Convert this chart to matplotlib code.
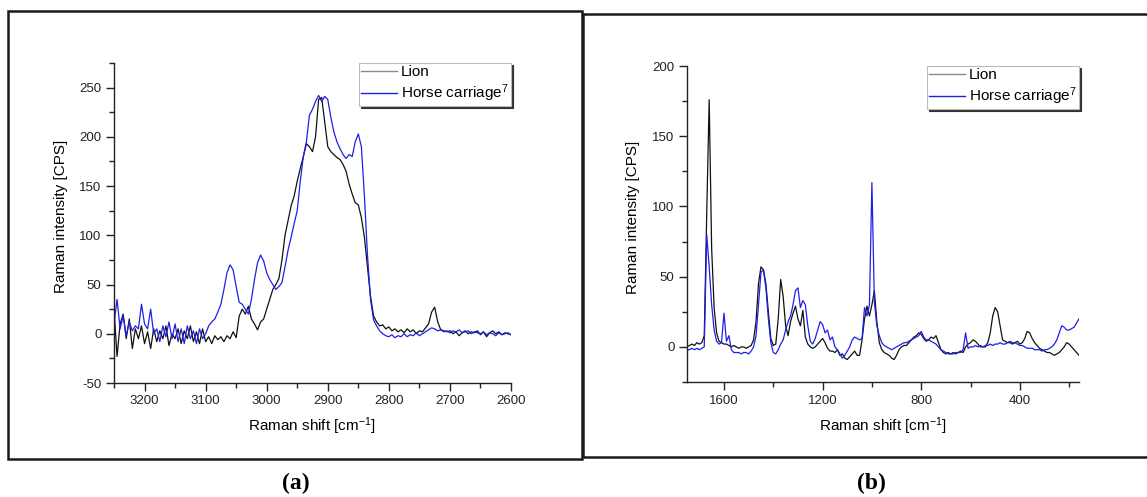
import numpy as np
import matplotlib
matplotlib.use("Agg")
from matplotlib import pyplot as plt
from matplotlib.lines import Line2D
from matplotlib.patches import Rectangle
from matplotlib.ticker import MultipleLocator

plt.rcParams['font.family'] = ['Liberation Sans', 'DejaVu Sans']
plt.rcParams['mathtext.fontset'] = 'custom'
plt.rcParams['mathtext.rm'] = 'Liberation Sans'
plt.rcParams['mathtext.it'] = 'Liberation Sans:italic'
plt.rcParams['mathtext.bf'] = 'Liberation Sans:bold'
plt.rcParams['axes.unicode_minus'] = False

# (a) high wavenumber region, 3250 -> 2600 cm-1 in 5 cm-1 steps
shift_a = np.arange(3250, 2595, -5)
lion_a = [
    25, -23, 10, 20, -5, 15, -15, 5, -5, 8,
    -10, 2, -15, 5, -8, 3, -5, 8, -12, 0,
    -5, 5, -10, 3, -5, 8, -8, 2, -10, 5,
    -8, -3, -10, -2, -6, -3, -8, -2, -5, 2,
    -4, 18, 25, 20, 28, 15, 10, 4, 12, 15,
    25, 35, 45, 50, 56, 75, 100, 115, 130, 140,
    155, 168, 180, 193, 190, 185, 200, 238, 240, 215,
    190, 185, 182, 179, 177, 172, 165, 152, 142, 133,
    131, 118, 98, 68, 38, 18, 12, 8, 9, 5,
    7, 3, 5, 2, 4, 1, 5, 2, 4, 0,
    3, 2, 6, 10, 22, 27, 12, 4, 3, 2,
    3, 0, 2, -2, 1, 3, 0, 2, 1, 3,
    -1, 2, -3, 1, 3, 0, 2, -1, 1, 0,
    -1,
]
horse_a = [
    10, 35, 5, 18, -2, 12, 3, 8, 5, 30,
    10, 5, 25, 0, 5, -8, 8, -3, 12, -5,
    10, -8, 5, -10, 8, -5, 3, -10, 5, -5,
    0, 8, 12, 15, 22, 30, 45, 62, 70, 65,
    48, 32, 30, 25, 20, 35, 55, 72, 80, 74,
    62, 55, 50, 45, 48, 52, 68, 85, 98, 112,
    125, 155, 180, 195, 222, 228, 236, 242, 236, 241,
    238, 220, 205, 195, 188, 182, 178, 182, 180, 195,
    203, 190, 140, 80, 35, 14, 8, 3, 0, -2,
    -3, -1, -4, -2, -3, 0, -3, -1, -2, 1,
    -2, 0, 2, 4, 6, 5, 3, 4, 2, 3,
    1, 3, 2, 4, 1, 2, 3, 0, 2, 1,
    0, 2, -1, 1, 0, -2, 1, -1, 0, 1,
    -1,
]

# (b) fingerprint region, 1750 -> 160 cm-1 in 10 cm-1 steps
shift_b = np.arange(1750, 155, -10)
lion_b = [
    0, 1, 2, 1, 3, 2, 3, 8, 95, 176,
    70, 28, 10, 4, 3, 2, 2, 1, 0, 1,
    0, -1, 0, 0, -1, 0, 1, 5, 18, 45,
    57, 55, 45, 25, 6, 1, 2, 20, 48, 36,
    15, 8, 18, 24, 29, 20, 15, 26, 7, 2,
    0, -1, 0, 2, 4, 6, 3, -1, -3, -3,
    -4, -2, -6, -5, -8, -9, -7, -5, -3, -6,
    -6, 5, 20, 29, 22, 30, 40, 18, 3, -2,
    -4, -5, -6, -8, -9, -6, -2, 0, 1, 1,
    3, 5, 7, 8, 10, 9, 6, 4, 5, 7,
    6, 8, 3, -2, -4, -5, -4, -5, -4, -5,
    -4, -3, -4, 0, 2, 3, 5, 4, 2, 0,
    0, 0, 3, 10, 22, 28, 25, 15, 5, 4,
    3, 3, 2, 3, 4, 2, 3, 6, 11, 10,
    6, 3, 1, -1, -2, -3, -4, -4, -5, -6,
    -5, -4, -2, 0, 3, 2, 0, -2, -4, -6,
]
horse_b = [
    -2, -2, -1, -2, -1, -2, -1, 0, 80, 57,
    30, 12, 4, 2, 3, 24, 4, 8, -2, -4,
    -4, -4, -5, -4, -4, -5, -3, 0, 8, 30,
    53, 55, 42, 20, 3, -4, -5, -2, 2, 5,
    12, 18, 22, 30, 40, 42, 28, 33, 30, 15,
    4, 2, 6, 12, 18, 16, 10, 12, 5, 7,
    0, -2, -5, -8, -6, -3, 0, 5, 7, 6,
    5, 6, 28, 22, 30, 117, 32, 15, 8, 3,
    1, 0, -1, -2, -1, 0, 1, 2, 3, 3,
    4, 5, 6, 7, 8, 11, 7, 5, 5, 4,
    3, 2, 0, -2, -3, -4, -5, -5, -5, -4,
    -4, -4, -2, 10, -1, 0, 0, 1, 0, 1,
    0, 1, 1, 2, 1, 2, 2, 3, 2, 2,
    3, 4, 3, 3, 2, 1, 1, 0, -1, -1,
    -1, -2, -2, -2, -3, -2, -2, -1, 0, 2,
    5, 10, 15, 14, 12, 12, 13, 14, 17, 20,
]

names = ['Lion', 'Horse carriage$^7$']
lion_color = '#111111'
horse_color = '#1f1fe8'

W, H = 1147, 497
fig = plt.figure(figsize=(W / 100, H / 100), dpi=100)


def px_rect(x0, y0, x1, y1):
    # pixel box (from top-left) -> figure fraction [left, bottom, width, height]
    return [x0 / W, 1 - y1 / H, (x1 - x0) / W, (y1 - y0) / H]


def draw_panel(ax, shift, lion, horse, xlim, ylim, xticks, xminor, yticks, ylab_x, xlab_y):
    ax.plot(shift, lion, color=lion_color, lw=0.9)
    ax.plot(shift, horse, color=horse_color, lw=0.9)
    ax.set_xlim(*xlim)
    ax.set_ylim(*ylim)
    ax.set_xticks(xticks)
    ax.set_yticks(yticks)
    ax.xaxis.set_minor_locator(MultipleLocator(xminor))
    ax.yaxis.set_minor_locator(MultipleLocator(25))
    for s in ['top', 'right']:
        ax.spines[s].set_visible(False)
    for s in ['left', 'bottom']:
        ax.spines[s].set_linewidth(1.0)
        ax.spines[s].set_color('#222222')
    ax.tick_params(which='major', direction='out', length=6, width=1, labelsize=9.5,
                   pad=3, colors='#222222')
    ax.tick_params(which='minor', direction='out', length=3.5, width=1, colors='#222222')
    ax.set_xlabel('Raman shift [cm$^{-1}$]', fontsize=11)
    ax.set_ylabel('Raman intensity [CPS]', fontsize=11)
    ax.yaxis.set_label_coords(ylab_x, 0.52)
    ax.xaxis.set_label_coords(0.5, xlab_y)

    handles = [Line2D([], [], color='#8a8a8a', lw=1.0),
               Line2D([], [], color=horse_color, lw=1.0)]
    leg = ax.legend(handles, names, loc='upper right', bbox_to_anchor=(1.0, 1.0),
                    borderaxespad=0, fontsize=11, frameon=True, fancybox=False,
                    framealpha=1, edgecolor='#bbbbbb', handlelength=2.3,
                    handletextpad=0.3, borderpad=0.15, labelspacing=0.2,
                    shadow={'ox': 1.2, 'oy': -1.2, 'facecolor': '#333333',
                            'edgecolor': '#333333', 'alpha': 1})
    leg.get_frame().set_linewidth(0.8)


ax_a = fig.add_axes(px_rect(114, 63, 511, 383))
draw_panel(ax_a, shift_a, lion_a, horse_a, (3250, 2600), (-50, 275),
           np.arange(3200, 2599, -100), 50, np.arange(-50, 251, 50), -0.116, -0.1)

ax_b = fig.add_axes(px_rect(687, 66, 1079, 382))
draw_panel(ax_b, shift_b, lion_b, horse_b, (1750, 160), (-25, 200),
           [1600, 1200, 800, 400], 200, np.arange(0, 201, 50), -0.121, -0.107)

# outer frames of the two sub-figures
fig.add_artist(Rectangle((8 / W, 1 - 459 / H), 574 / W, 448 / H, transform=fig.transFigure,
                         fill=False, lw=1.8, ec='#1a1a1a'))
fig.add_artist(Rectangle((583 / W, 1 - 457 / H), 600 / W, 443 / H, transform=fig.transFigure,
                         fill=False, lw=1.8, ec='#1a1a1a'))

fig.text(296 / W, 1 - 483 / H, '(a)', ha='center', va='center', fontsize=17,
         family='Liberation Serif', weight='bold')
fig.text(871 / W, 1 - 483 / H, '(b)', ha='center', va='center', fontsize=17,
         family='Liberation Serif', weight='bold')

fig.savefig('out.png', dpi=100)
